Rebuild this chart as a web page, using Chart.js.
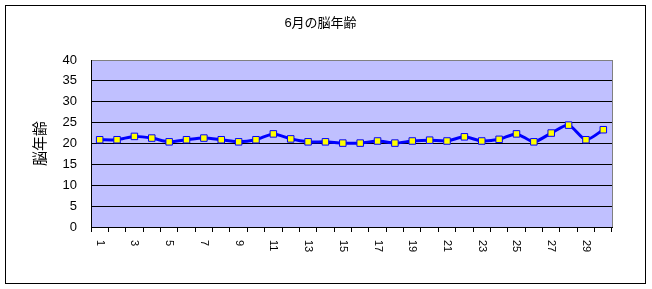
<!DOCTYPE html>
<html>
<head>
<meta charset="utf-8">
<script src="https://cdn.jsdelivr.net/npm/chart.js@4/dist/chart.umd.min.js"></script>
<style>
  html, body { margin: 0; padding: 0; background: #ffffff; }
  #wrap { width: 652px; height: 289px; }
</style>
</head>
<body>
<div id="wrap"><canvas id="c" width="652" height="289"></canvas></div>
<script>
const chartTitle = '6月の脳年齢';
const yAxisTitle = '脳年齢';
const days = ['1','2','3','4','5','6','7','8','9','10','11','12','13','14','15','16','17','18','19','20','21','22','23','24','25','26','27','28','29','30'];
const brainAge = [20.9, 20.9, 21.7, 21.3, 20.4, 20.9, 21.3, 20.9, 20.4, 20.9, 22.3, 21.1, 20.4, 20.4, 20.1, 20.1, 20.6, 20.1, 20.6, 20.8, 20.6, 21.6, 20.6, 21.0, 22.3, 20.4, 22.5, 24.4, 20.9, 23.3];
const xTickLabels = ['1','3','5','7','9','11','13','15','17','19','21','23','25','27','29'];
const yTicks = [0, 5, 10, 15, 20, 25, 30, 35, 40];

const FONT = "'Liberation Sans', 'Noto Sans CJK JP', sans-serif";

const framePlugin = {
  id: 'frame',
  beforeDraw(chart) {
    const ctx = chart.ctx;
    const a = chart.chartArea;
    ctx.save();
    ctx.fillStyle = '#ffffff';
    ctx.fillRect(0, 0, chart.width, chart.height);
    ctx.strokeStyle = '#000000';
    ctx.lineWidth = 1;
    ctx.strokeRect(5.5, 5.5, 640, 278);
    ctx.fillStyle = '#C0C0FF';
    ctx.fillRect(a.left, a.top, a.right - a.left, a.bottom - a.top);
    ctx.restore();
  },
  beforeDatasetsDraw(chart) {
    const ctx = chart.ctx;
    const a = chart.chartArea;
    ctx.save();
    ctx.strokeStyle = '#808080';
    ctx.lineWidth = 1;
    ctx.beginPath();
    ctx.moveTo(Math.round(a.right) + 0.5, a.top);
    ctx.lineTo(Math.round(a.right) + 0.5, a.bottom);
    ctx.stroke();
    ctx.restore();
  },
  afterDraw(chart) {
    const ctx = chart.ctx;
    const xs = chart.scales.x;
    ctx.save();
    ctx.fillStyle = '#000000';
    ctx.font = '11px ' + FONT;
    ctx.textAlign = 'left';
    ctx.textBaseline = 'middle';
    xs.ticks.forEach((t, i) => {
      const lbl = days[i];
      if (xTickLabels.indexOf(lbl) === -1) return;
      const px = xs.getPixelForTick(i);
      ctx.save();
      ctx.translate(px, xs.top + 13);
      ctx.rotate(Math.PI / 2);
      ctx.fillText(lbl, 0, 0);
      ctx.restore();
    });
    ctx.restore();
  }
};

new Chart(document.getElementById('c'), {
  type: 'line',
  data: {
    labels: days,
    datasets: [{
      data: brainAge,
      borderColor: '#0000FF',
      borderWidth: 3,
      tension: 0.25,
      pointStyle: 'rect',
      pointRadius: 4.6,
      pointBackgroundColor: '#FFFF00',
      pointBorderColor: '#0000FF',
      pointBorderWidth: 1
    }]
  },
  options: {
    responsive: false,
    animation: false,
    devicePixelRatio: 1,
    layout: { padding: { left: 29, right: 40, top: 0, bottom: 0 } },
    plugins: {
      legend: { display: false },
      tooltip: { enabled: false },
      title: {
        display: true,
        text: chartTitle,
        color: '#000000',
        font: { family: FONT, size: 13, weight: 'normal' },
        padding: { top: 15.7, bottom: 28.7 }
      }
    },
    scales: {
      x: {
        offset: true,
        afterFit(scale) { scale.height = 62; },
        grid: {
          offset: true,
          drawOnChartArea: false,
          drawTicks: true,
          tickLength: 5,
          color: '#000000'
        },
        border: { display: true, color: '#000000', width: 1 },
        ticks: { display: false }
      },
      y: {
        min: 0,
        max: 40,
        afterFit(scale) { scale.width = 62; },
        afterBuildTicks(scale) { scale.ticks = yTicks.map(v => ({ value: v })); },
        grid: {
          drawTicks: false,
          color: (c) => (c.tick && c.tick.value === 40) ? '#808080' : '#000000',
          lineWidth: 1
        },
        border: { display: true, color: '#000000', width: 1 },
        ticks: {
          padding: 14,
          color: '#000000',
          font: { family: FONT, size: 13 }
        },
        title: {
          display: true,
          text: yAxisTitle,
          color: '#000000',
          font: { family: FONT, size: 15 },
          padding: { top: 3, bottom: 0 }
        }
      }
    }
  },
  plugins: [framePlugin]
});
</script>
</body>
</html>
